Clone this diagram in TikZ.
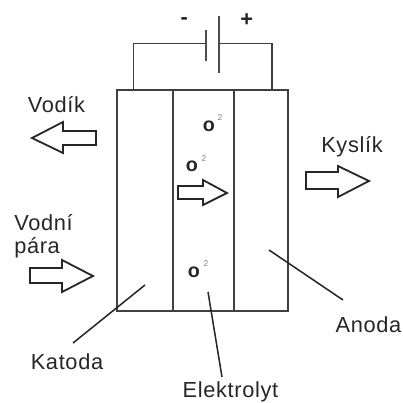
\documentclass[tikz,border=0pt]{standalone}
\usepackage{fontspec}
\setmainfont[LetterSpace=3]{Liberation Sans}
\usepackage{tikz}
\tikzset{
  wire/.style={black!75,line width=0.4mm},
  plate/.style={black!70,line width=0.5mm},
  leader/.style={black!85,line width=0.38mm},
  flow/.style={draw=black!85,fill=white,line width=0.45mm,line join=miter},
  lbl/.style={inner sep=0pt,text=black!85,font=\fontsize{15.5}{17}\selectfont},
  ion/.style={inner sep=0pt,text=black!85,font=\bfseries\fontsize{14}{16}\selectfont},
  ionsup/.style={inner sep=0pt,text=black!50,font=\fontsize{6}{7}\selectfont}
}
\begin{document}
\begin{tikzpicture}[x=0.025cm,y=-0.025cm]
\useasboundingbox (0,0) rectangle (403,403);
% cell
\coordinate (tl) at (117,90);
\coordinate (br) at (288,311);
\draw[wire] (tl) rectangle (br);
\draw[wire] (173,90)--(173,311);
\draw[wire] (234,90)--(234,311);
% battery
\coordinate (cellneg) at (133.5,90);
\coordinate (cellpos) at (272,90);
\coordinate (plateneg) at (206,43.5);
\coordinate (platepos) at (219,43.5);
\draw[wire] (cellneg)--(133.5,43.5)--(plateneg);
\draw[wire] (cellpos)--(272,43.5)--(platepos);
\draw[plate] (206,30)--(206,61);
\draw[plate] (219,16)--(219,73);
\node[lbl] (minus) at (184.5,21) {\textbf{-}};
\node[lbl] (plus) at (247,20) {\textbf{+}};
% arrows
\draw[flow] (96,131)--(63,131)--(63,122)--(32,138)--(63,153)--(63,145)--(96,145)--cycle;
\draw[flow] (30,268)--(62,268)--(62,260)--(93,276)--(62,292)--(62,283)--(30,283)--cycle;
\draw[flow] (306,172)--(338,172)--(338,166)--(369,181)--(338,197)--(338,189)--(306,189)--cycle;
\draw[flow] (178,186)--(203,186)--(203,180)--(227,193)--(203,205)--(203,199)--(178,199)--cycle;
% ions
\node[ion] (ionA) at (209,126) {o};
\node[ion] (ionB) at (192,166) {o};
\node[ion] (ionC) at (194,272) {o};
\node[ionsup] (supA) at (220,118) {2};
\node[ionsup] (supB) at (204,159) {2};
\node[ionsup] (supC) at (206,264) {2};
% labels
\node[lbl] (vodik) at (56.5,105) {Vodík};
\node[lbl,anchor=west] (vodni) at (14,223) {Vodní};
\node[lbl,anchor=west] (para) at (14,248) {pára};
\node[lbl] (kyslik) at (352,147) {Kyslík};
\node[lbl] (katoda) at (67,362) {Katoda};
\node[lbl] (anoda) at (368.5,325) {Anoda};
\node[lbl] (elektrolyt) at (230.5,391.5) {Elektrolyt};
% leaders
\coordinate (katodaend) at (145,285);
\coordinate (anodaend) at (269,250);
\coordinate (elektrolytend) at (208,292);
\coordinate (katodafoot) at (73,343);
\coordinate (anodafoot) at (343,300);
\coordinate (elektrolytfoot) at (222,377);
\draw[leader] (katodaend)--(katodafoot);
\draw[leader] (anodaend)--(anodafoot);
\draw[leader] (elektrolytend)--(elektrolytfoot);
\end{tikzpicture}
\end{document}
